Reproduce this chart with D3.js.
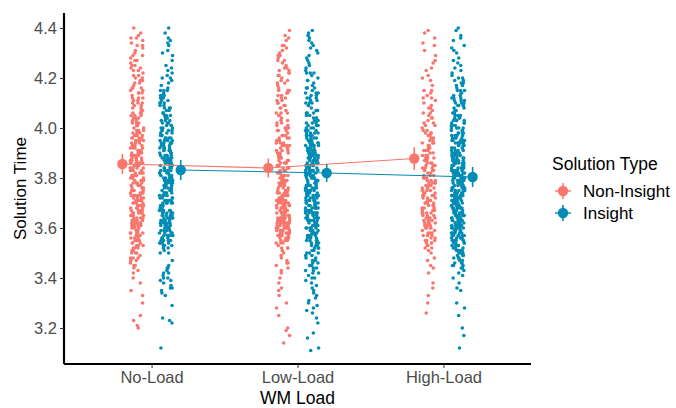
<!DOCTYPE html><meta charset="utf-8">
<html>
<head>
<title>Solution Time by WM Load</title>
<script src="https://cdn.jsdelivr.net/npm/d3@7"></script>
<style>
  body { margin: 0; background: #fff; }
  text { font-family: Arial, "Liberation Sans", sans-serif; }
</style>
</head>
<body>
<svg id="viz"></svg>
<script>
// categories and groups
var loads = ["No-Load", "Low-Load", "High-Load"];
var groups = ["Non-Insight", "Insight"];
var yTicks = [3.2, 3.4, 3.6, 3.8, 4.0, 4.2, 4.4];

// group means and error bar half-widths
var nonInsightMean = [3.856, 3.840, 3.878];
var insightMean = [3.832, 3.820, 3.804];
var nonInsightErr = [0.040, 0.038, 0.045];
var insightErr = [0.040, 0.036, 0.040];

// raw trial points (estimated from the strips)
var noLoadNon = [4.40,3.71,4.12,3.55,3.93,4.27,3.62,3.84,4.05,3.48,3.77,4.33,3.66,3.99,3.58,4.18,3.87,3.52,4.08,3.74,
3.91,4.36,3.64,3.81,4.02,3.45,3.69,4.22,3.95,3.57,3.83,4.14,3.61,3.76,4.30,3.89,3.50,4.06,3.72,3.97,
3.35,4.25,3.67,3.86,4.10,3.54,3.79,3.94,4.38,3.63,3.82,4.01,3.47,3.73,4.16,3.90,3.59,3.78,4.20,3.68,
3.85,4.04,3.42,3.75,3.96,4.31,3.60,3.88,4.11,3.53,3.70,3.92,4.24,3.65,3.80,4.07,3.49,3.76,3.98,4.35,
3.33,3.62,3.84,4.13,3.56,3.73,3.90,4.28,3.67,3.83,4.03,3.46,3.71,3.95,4.19,3.58,3.87,4.09,3.64,3.79,
3.30,4.00,3.51,3.74,4.23,3.89,3.61,3.82,4.15,3.44,3.69,3.93,4.32,3.57,3.77,4.06,3.86,3.63,3.99,4.26,
3.25,3.55,3.81,4.17,3.72,3.94,3.48,3.66,3.88,4.02,3.59,3.78,4.21,3.40,3.85,3.97,3.68,4.12,3.75,3.91,
3.23,3.52,4.08,3.80,3.65,4.37,3.70,3.96,3.54,3.83,4.29,3.62,3.87,4.04,3.45,3.73,3.92,3.60,4.14,3.79,
3.21,3.38,3.67,3.90,4.01,3.56,3.76,4.24,3.84,3.63,3.98,3.50,3.71,4.10,3.86,3.58,3.81,4.19,3.69,3.95,
3.20,3.47,3.74,3.89,4.05,3.61,3.82,4.34,3.66,3.93,3.53,3.78,4.16,3.72,3.86,3.43,4.07,3.64,3.80,3.97,
3.58,3.92,4.21,3.67,3.81,4.03,3.54,3.74,3.96,4.12,3.62,3.88,4.27,3.70,3.85,3.51,3.99,4.15,3.65,3.79,
3.93,3.57,3.72,4.06,3.84,3.60,3.97,4.33,3.68,3.82,3.55,3.76,4.09,3.89,3.63,4.18,3.73,3.95,3.52,3.86,
4.02,3.69,3.80,4.23,3.59,3.91,3.75,4.11,3.64,3.87,3.48,3.78,4.00,3.66,3.94,4.29,3.71,3.83,3.56,4.07,
3.90,3.61,3.77,4.14,3.85,3.53,3.98,3.68,4.20,3.74,3.88,3.63,4.04,3.79,3.57,3.92,4.36,3.70,3.84,3.50,
4.10,3.66,3.81,3.96,3.60,4.25,3.73,3.89,3.55,4.01,3.77,3.65,3.93,4.16,3.82,3.58,3.86,3.71,4.05,3.62];

var noLoadIns = [4.40,3.74,4.08,3.58,3.92,4.31,3.65,3.86,4.02,3.41,3.79,4.17,3.68,3.96,3.55,4.22,3.89,3.62,4.05,3.71,
3.83,4.36,3.60,3.77,3.99,3.38,3.67,4.13,3.94,3.53,3.81,4.10,3.64,3.75,4.27,3.87,3.56,4.03,3.70,3.93,
3.35,4.20,3.66,3.84,4.06,3.51,3.78,3.91,4.34,3.61,3.80,3.98,3.44,3.72,4.15,3.88,3.57,3.76,4.11,3.69,
3.85,4.01,3.40,3.73,3.95,4.24,3.59,3.90,4.09,3.54,3.68,3.82,4.19,3.63,3.79,4.04,3.36,3.74,3.97,4.38,
3.33,3.62,3.86,4.12,3.58,3.71,3.89,4.29,3.66,3.82,4.00,3.43,3.75,3.94,4.16,3.56,3.84,4.07,3.64,3.77,
3.29,3.99,3.52,3.72,4.21,3.87,3.60,3.81,4.14,3.39,3.67,3.92,4.33,3.57,3.78,4.05,3.85,3.63,3.96,4.25,
3.24,3.55,3.80,4.10,3.70,3.93,3.45,3.65,3.88,4.02,3.61,3.76,4.18,3.37,3.83,3.97,3.69,4.09,3.73,3.90,
3.23,3.50,4.06,3.79,3.62,4.35,3.71,3.95,3.54,3.84,4.23,3.59,3.86,4.01,3.42,3.74,3.91,3.66,4.13,3.80,
3.22,3.34,3.68,3.89,4.03,3.57,3.77,4.20,3.83,3.64,3.98,3.53,3.72,4.08,3.87,3.60,3.82,4.15,3.70,3.94,
3.12,3.36,3.75,3.88,4.04,3.63,3.81,4.30,3.67,3.92,3.55,3.78,4.11,3.73,3.85,3.40,4.00,3.65,3.79,3.96,
3.61,3.88,4.06,3.57,3.74,3.95,3.66,3.83,4.01,3.52,3.70,3.91,3.64,3.79,4.12,3.59,3.86,3.68,3.97,3.54,
3.76,4.03,3.62,3.89,3.71,3.55,3.93,3.80,4.08,3.65,3.84,3.58,3.72,3.99,3.67,3.87,4.15,3.60,3.78,3.94,
3.53,3.69,3.82,4.04,3.63,3.90,3.75,3.56,3.96,3.85,3.66,4.10,3.73,3.59,3.88,3.50,3.77,4.00,3.64,3.92,
3.81,3.68,4.07,3.57,3.74,3.98,3.62,3.86,3.71,4.02,3.54,3.79,3.93,3.66,3.84,3.60,4.13,3.76,3.89,3.63,
3.47,3.70,3.95,3.58,3.83,4.05,3.67,3.91,3.55,3.78,3.44,3.87,3.61,3.73,3.99,3.42,3.80,3.65,3.94,3.39];

var lowLoadNon = [4.39,3.66,4.11,3.57,3.90,4.26,3.63,3.81,4.03,3.49,3.72,4.31,3.68,3.96,3.59,4.16,3.84,3.54,4.07,3.70,
3.88,4.35,3.61,3.78,4.00,3.46,3.65,4.21,3.93,3.56,3.80,4.13,3.62,3.74,4.28,3.86,3.51,4.05,3.69,3.95,
3.33,4.23,3.64,3.83,4.09,3.55,3.76,3.92,4.37,3.60,3.79,3.99,3.47,3.71,4.15,3.87,3.58,3.73,4.19,3.67,
3.82,4.02,3.43,3.75,3.94,4.30,3.62,3.85,4.10,3.53,3.68,3.89,4.24,3.64,3.77,4.06,3.50,3.72,3.97,4.33,
3.30,3.60,3.81,4.12,3.57,3.70,3.91,4.27,3.66,3.79,4.01,3.48,3.73,3.93,4.18,3.59,3.84,4.08,3.63,3.76,
3.28,3.98,3.52,3.71,4.22,3.86,3.61,3.80,4.14,3.42,3.67,3.90,4.32,3.58,3.74,4.04,3.83,3.65,3.95,4.25,
3.25,3.56,3.78,4.17,3.69,3.92,3.45,3.64,3.87,4.00,3.60,3.75,4.20,3.38,3.82,3.97,3.66,4.11,3.72,3.89,
3.20,3.54,4.06,3.77,3.62,4.36,3.68,3.94,3.55,3.81,4.29,3.63,3.85,4.02,3.44,3.71,3.91,3.58,4.13,3.79,
3.19,3.36,3.65,3.88,3.99,3.57,3.74,4.23,3.83,3.61,3.96,3.52,3.70,4.09,3.86,3.59,3.78,4.15,3.67,3.93,
3.17,3.14,3.35,3.46,3.40,3.63,3.73,3.57,3.80,3.69,
3.62,3.71,3.95,4.18,3.58,3.66,3.84,4.05,3.69,3.60,3.77,4.27,3.64,3.73,3.91,3.56,3.68,4.12,3.81,3.62,
3.99,3.70,3.57,3.86,4.22,3.65,3.74,3.61,3.93,3.67,4.08,3.59,3.79,3.72,4.33,3.63,3.88,3.68,3.55,4.01,
3.75,3.64,3.83,4.15,3.60,3.70,3.97,3.66,3.78,3.58,4.24,3.73,3.62,3.89,3.69,4.03,3.57,3.76,3.65,3.94,
4.19,3.61,3.71,3.85,3.67,3.59,4.10,3.74,3.63,3.80,3.52,3.96,3.68,4.29,3.60,3.72,3.87,3.64,4.06,3.56,
3.70,3.82,3.66,4.14,3.61,3.77,3.92,3.58,3.69,4.00,3.63,3.75,3.54,3.84,4.21,3.67,3.71,3.90,3.62,3.79];

var lowLoadIns = [4.39,3.72,4.10,3.55,3.93,4.28,3.61,3.85,4.04,3.42,3.77,4.34,3.66,3.98,3.50,4.19,3.88,3.58,4.07,3.74,
3.90,4.37,3.63,3.80,4.01,3.36,3.68,4.22,3.95,3.53,3.82,4.14,3.60,3.76,4.31,3.87,3.47,4.06,3.71,3.97,
3.31,4.25,3.65,3.84,4.11,3.52,3.79,3.94,4.38,3.62,3.81,4.00,3.44,3.73,4.16,3.89,3.56,3.78,4.21,3.67,
3.86,4.03,3.39,3.75,3.96,4.30,3.59,3.88,4.12,3.49,3.70,3.92,4.24,3.64,3.80,4.08,3.45,3.74,3.99,4.35,
3.28,3.61,3.83,4.13,3.54,3.72,3.90,4.27,3.66,3.82,4.02,3.41,3.76,3.95,4.18,3.57,3.86,4.09,3.63,3.79,
3.26,4.00,3.48,3.73,4.23,3.89,3.60,3.83,4.15,3.35,3.69,3.93,4.32,3.56,3.77,4.05,3.85,3.62,3.98,4.26,
3.24,3.51,3.81,4.17,3.71,3.94,3.43,3.66,3.88,4.03,3.58,3.78,4.20,3.33,3.84,3.97,3.68,4.10,3.75,3.91,
3.22,3.46,4.07,3.80,3.64,4.36,3.70,3.96,3.53,3.83,4.29,3.59,3.87,4.04,3.38,3.72,3.92,3.61,4.14,3.79,
3.18,3.30,3.67,3.90,4.01,3.55,3.76,4.22,3.85,3.63,3.99,3.50,3.73,4.11,3.86,3.57,3.82,4.16,3.69,3.95,
3.16,3.34,3.74,3.89,4.06,3.62,3.81,4.33,3.65,3.93,3.52,3.77,4.12,3.71,3.84,3.40,4.02,3.64,3.80,3.97,
3.12,3.11,3.27,3.29,3.37,3.45,3.58,3.68,3.78,3.87,3.32,3.42,3.54,3.70,3.91,3.60,3.75,3.47,3.83,3.66,
3.64,3.87,4.05,3.52,3.73,3.96,3.61,3.82,4.14,3.57,3.69,3.91,3.66,3.79,4.02,3.48,3.75,3.93,3.62,3.85,
4.09,3.55,3.71,3.98,3.68,3.83,4.19,3.59,3.77,3.90,3.45,3.66,3.88,4.04,3.63,3.80,3.54,3.74,3.95,4.12,
3.60,3.86,3.70,3.50,3.92,3.67,3.81,4.07,3.57,3.76,3.99,3.64,3.89,3.43,3.72,4.16,3.61,3.84,3.68,3.94,
3.53,3.78,4.01,3.65,3.87,3.58,3.74,4.10,3.62,3.91,3.47,3.80,3.69,3.97,3.56,3.83,4.22,3.66,3.75,3.60,
3.88,3.51,3.72,4.03,3.63,3.85,3.40,3.77,3.94,3.59,3.70,4.13,3.67,3.82,3.55,3.96,3.64,3.79,3.49,4.06,
3.61,3.86,3.73,3.57,3.90,3.68,4.00,3.44,3.76,3.63,3.84,3.53,3.98,3.71,3.66,3.89,3.58,3.81,3.46,3.93];

var highLoadNon = [4.39,3.70,4.08,3.57,3.91,4.24,3.64,3.83,4.01,3.52,3.76,4.33,3.67,3.96,3.60,4.15,3.86,3.55,4.05,3.73,
3.89,4.36,3.62,3.79,3.99,3.47,3.68,4.19,3.94,3.58,3.81,4.11,3.65,3.75,4.29,3.87,3.54,4.03,3.71,3.97,
3.45,4.21,3.66,3.84,4.07,3.56,3.78,3.92,4.31,3.61,3.80,3.98,3.50,3.72,4.13,3.88,3.59,3.77,4.17,3.69,
3.85,4.02,3.42,3.74,3.95,4.26,3.63,3.90,4.09,3.53,3.70,3.82,4.23,3.66,3.78,4.04,3.38,3.75,3.93,4.34,
3.36,3.62,3.86,4.10,3.57,3.73,3.89,4.27,3.67,3.81,4.00,3.48,3.76,3.94,4.14,3.60,3.84,4.06,3.64,3.79,
3.33,3.98,3.55,3.72,4.20,3.87,3.61,3.83,4.12,3.51,3.68,3.91,4.38,3.58,3.77,4.02,3.85,3.63,3.96,3.71,
3.30,3.26,3.44,3.54,3.69,3.80,3.92,3.65,3.74,3.88,
3.62,3.78,3.95,3.55,3.70,3.88,4.04,3.66,3.81,3.58,3.92,3.73,3.64,4.08,3.85,3.60,3.76,3.99,3.68,3.53,
3.83,3.71,3.94,3.63,4.12,3.79,3.57,3.87,3.67,3.74,4.01,3.61,3.90,3.56,3.80,3.69,3.97,3.65,3.84,3.52,
3.75,4.06,3.62,3.89,3.72,3.59,3.93,3.77,3.66,4.15,3.82,3.70,3.54,3.86,3.64,3.98,3.78,3.60,3.91,3.73];

var highLoadIns = [4.40,3.73,4.06,3.56,3.90,4.25,3.62,3.84,4.02,3.47,3.77,4.32,3.66,3.97,3.52,4.15,3.87,3.59,4.05,3.71,
3.89,4.37,3.61,3.79,3.99,3.45,3.67,4.20,3.94,3.54,3.82,4.12,3.63,3.75,4.28,3.86,3.50,4.04,3.70,3.96,
3.43,4.22,3.65,3.83,4.09,3.55,3.78,3.92,4.35,3.60,3.80,4.00,3.48,3.72,4.14,3.88,3.57,3.76,4.18,3.68,
3.85,4.01,3.41,3.74,3.95,4.30,3.58,3.91,4.10,3.51,3.69,3.93,4.23,3.64,3.81,4.07,3.46,3.73,3.98,4.33,
3.40,3.62,3.84,4.11,3.56,3.71,3.90,4.26,3.66,3.82,4.03,3.49,3.76,3.95,4.16,3.59,3.86,4.08,3.63,3.79,
3.38,3.99,3.53,3.74,4.21,3.89,3.60,3.83,4.13,3.44,3.68,3.92,4.39,3.57,3.78,4.05,3.85,3.62,3.97,4.27,
3.36,3.55,3.81,4.17,3.72,3.94,3.47,3.65,3.88,4.02,3.58,3.77,4.19,3.42,3.84,3.96,3.67,4.10,3.75,3.91,
3.35,3.52,4.06,3.80,3.64,4.36,3.70,3.93,3.54,3.83,4.24,3.61,3.87,4.01,3.45,3.73,3.90,3.59,4.12,3.79,
3.30,3.48,3.69,3.89,4.04,3.56,3.76,4.20,3.82,3.63,3.98,3.50,3.71,4.09,3.86,3.60,3.81,4.15,3.68,3.95,
3.28,3.51,3.74,3.88,4.03,3.61,3.80,4.31,3.66,3.92,3.55,3.78,4.11,3.72,3.85,3.46,4.00,3.64,3.79,3.97,
3.25,3.20,3.17,3.12,3.57,3.67,3.77,3.87,3.53,3.63,3.73,3.83,3.93,3.49,3.58,3.70,3.82,3.94,3.65,3.75,
3.62,3.84,4.03,3.55,3.73,3.95,3.66,3.81,4.12,3.51,3.70,3.90,3.64,3.78,4.06,3.58,3.87,3.68,3.98,3.53,
3.76,4.09,3.61,3.89,3.72,3.48,3.93,3.80,4.15,3.65,3.83,3.57,3.71,4.00,3.67,3.86,4.19,3.60,3.77,3.94,
3.50,3.69,3.82,4.04,3.63,3.91,3.74,3.56,3.97,3.85,3.66,4.10,3.73,3.59,3.88,3.46,3.79,4.01,3.64,3.92,
3.81,3.68,4.07,3.54,3.75,3.99,3.62,3.86,3.70,4.13,3.52,3.78,3.94,3.66,3.84,3.60,4.17,3.76,3.89,3.63,
3.49,3.71,3.96,3.57,3.83,4.05,3.67,3.90,3.55,3.80,3.44,3.87,3.61,3.74,4.02,3.47,3.82,3.65,3.95,3.58,
3.69,3.85,4.08,3.53,3.77,3.93,3.64,3.79,4.11,3.56,3.72,3.91,3.68,3.83,4.03,3.50,3.75,3.97,3.62,3.88,
4.14,3.59,3.74,3.92,3.66,3.86,3.54,3.78,4.06,3.63,3.81,3.45,3.70,3.96,3.67,3.84,4.00,3.57,3.73,3.90,
3.61,3.80,4.18,3.52,3.76,3.94,3.65,3.87,3.48,3.71,4.09,3.60,3.82,3.69,3.98,3.55,3.79,3.64,3.89,3.51];

var width = 676, height = 408;
var margin = {top: 13, right: 145, bottom: 44, left: 64};
var color = d3.scaleOrdinal().domain(groups).range(["#F8766D", "#008CB4"]);

var svg = d3.select("#viz").attr("width", width).attr("height", height);

var x = d3.scalePoint().domain(loads).range([margin.left, width - margin.right]).padding(0.6);
var y = d3.scaleLinear().domain([3.056, 4.46]).range([height - margin.bottom, margin.top]);
var step = x.step();

// dodge offsets (fractions of a category step)
var stripOff = {"Non-Insight": -0.1, "Insight": 0.1};
var meanOff = {"Non-Insight": -0.2, "Insight": 0.2};
var jitterW = 0.046;

var raw = [
  {group: "Non-Insight", load: "No-Load", values: noLoadNon},
  {group: "Insight", load: "No-Load", values: noLoadIns},
  {group: "Non-Insight", load: "Low-Load", values: lowLoadNon},
  {group: "Insight", load: "Low-Load", values: lowLoadIns},
  {group: "Non-Insight", load: "High-Load", values: highLoadNon},
  {group: "Insight", load: "High-Load", values: highLoadIns}
];

// deterministic hash jitter, so the picture is stable between runs
function hashJitter(i, k, v) {
    var s = Math.sin(i * 12.9898 + k * 78.233 + v * 37.719) * 43758.5453;
    return s - Math.floor(s);
}

var points = [];
raw.forEach(function(s, k) {
    s.values.forEach(function(v, i) {
        var u = hashJitter(i, k, v);
        points.push({group: s.group, load: s.load, value: v, j: (u - 0.5) * 2 * jitterW});
    });
});

var summary = [];
loads.forEach(function(l, i) {
    summary.push({group: "Non-Insight", load: l, mean: nonInsightMean[i], err: nonInsightErr[i]});
    summary.push({group: "Insight", load: l, mean: insightMean[i], err: insightErr[i]});
});

// axes
var yAxis = svg.append("g")
    .attr("transform", "translate(" + margin.left + ",0)")
    .call(d3.axisLeft(y).tickValues(yTicks).tickFormat(d3.format(".1f")).tickSize(4).tickPadding(3));
var xAxis = svg.append("g")
    .attr("transform", "translate(0," + (height - margin.bottom) + ")")
    .call(d3.axisBottom(x).tickSize(4).tickPadding(3));

[yAxis, xAxis].forEach(function(a) {
    a.select(".domain").attr("stroke", "#000").attr("stroke-width", 2.2);
    a.selectAll(".tick line").attr("stroke", "#333").attr("stroke-width", 1);
    a.selectAll(".tick text").attr("fill", "#4D4D4D").style("font-size", "16.5px")
        .style("font-family", "Arial, 'Liberation Sans', sans-serif");
});
// stretch the axis lines to the panel corner like ggplot
yAxis.select(".domain").attr("d", "M0," + (height - margin.bottom) + "V" + margin.top);
xAxis.select(".domain").attr("d", "M" + margin.left + ",0H" + (width - margin.right));

// jittered raw points
svg.append("g").selectAll("circle")
    .data(points)
    .enter()
    .append("circle")
    .attr("cx", function(d) { return x(d.load) + (stripOff[d.group] + d.j) * step; })
    .attr("cy", function(d) { return y(d.value); })
    .attr("r", 1.8)
    .attr("fill", function(d) { return color(d.group); });

// lines connecting means
var line = d3.line()
    .x(function(d) { return x(d.load) + meanOff[d.group] * step; })
    .y(function(d) { return y(d.mean); });

groups.forEach(function(g) {
    svg.append("path")
        .datum(summary.filter(function(d) { return d.group == g; }))
        .attr("d", line)
        .attr("fill", "none")
        .attr("stroke", color(g))
        .attr("stroke-width", 1.1);
});

// point ranges
var pr = svg.append("g").selectAll("g")
    .data(summary)
    .enter()
    .append("g")
    .attr("transform", function(d) { return "translate(" + (x(d.load) + meanOff[d.group] * step) + ",0)"; });

pr.append("line")
    .attr("x1", 0).attr("x2", 0)
    .attr("y1", function(d) { return y(d.mean - d.err); })
    .attr("y2", function(d) { return y(d.mean + d.err); })
    .attr("stroke", function(d) { return color(d.group); })
    .attr("stroke-width", 1.6);

pr.append("circle")
    .attr("cy", function(d) { return y(d.mean); })
    .attr("r", 5.2)
    .attr("fill", function(d) { return color(d.group); });

// axis titles
svg.append("text")
    .attr("x", x("Low-Load")).attr("y", 404)
    .attr("text-anchor", "middle")
    .style("font-size", "17.5px").attr("fill", "#000")
    .text("WM Load");

svg.append("text")
    .attr("transform", "translate(26," + ((margin.top + height - margin.bottom) / 2) + ") rotate(-90)")
    .attr("text-anchor", "middle")
    .style("font-size", "17px").attr("fill", "#000")
    .text("Solution Time");

// legend
var legend = svg.append("g").attr("transform", "translate(552,0)");
legend.append("text")
    .attr("x", 0).attr("y", 170)
    .style("font-size", "17.5px").attr("fill", "#000")
    .text("Solution Type");

var item = legend.selectAll("g.item")
    .data(groups)
    .enter()
    .append("g")
    .attr("class", "item")
    .attr("transform", function(d, i) { return "translate(11," + (191 + i * 22) + ")"; });

item.append("line").attr("x1", -8).attr("x2", 8).attr("y1", 0).attr("y2", 0)
    .attr("stroke", function(d) { return color(d); }).attr("stroke-width", 1.4);
item.append("line").attr("x1", 0).attr("x2", 0).attr("y1", -8).attr("y2", 8)
    .attr("stroke", function(d) { return color(d); }).attr("stroke-width", 1.6);
item.append("circle").attr("r", 5.2).attr("fill", function(d) { return color(d); });
item.append("text")
    .attr("x", 20).attr("y", 0).attr("dy", "0.35em")
    .style("font-size", "17px").attr("fill", "#000")
    .text(function(d) { return d; });
</script>
</body>
</html>
